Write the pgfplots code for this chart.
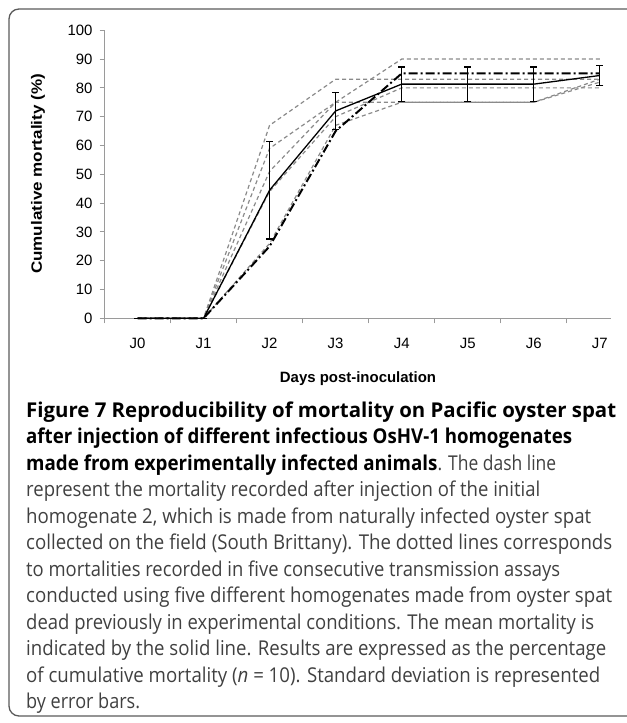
\documentclass[border=0pt]{standalone}
\usepackage{fontspec}
\setmainfont{Liberation Sans}
\newfontfamily\capfont[FakeStretch=0.93]{Open Sans}
\newfontfamily\capbold{Open Sans}
\usepackage{graphicx}
\usepackage{pgfplots}
\pgfplotsset{compat=1.18}
\definecolor{dgray}{HTML}{8A8A8A}
\definecolor{axgray}{HTML}{9A9A9A}
\definecolor{txtgray}{HTML}{404040}
\definecolor{boxgray}{HTML}{5A5A5A}
\newcommand\B[1]{{\capbold\bfseries\color{black}#1}}
\newcommand\capline[3]{\node at (26,#1) {\resizebox{#2bp}{\height}{#3}};}
\begin{document}
\begin{tikzpicture}[x=1bp,y=1bp]
\useasboundingbox (0,0) rectangle (627,723);
\draw[line width=1.3bp, boxgray, rounded corners=10bp] (9,7) rectangle (680,714);
\begin{axis}[
  at={(104.5bp,404.7bp)}, anchor=south west,
  scale only axis, width=506.5bp, height=288bp,
  xmin=-0.5, xmax=7.17, ymin=0, ymax=100,
  axis x line*=bottom, axis y line*=left,
  axis line style={draw=axgray, line width=0.8bp},
  ytick={0,10,...,100},
  xtick={-0.5,0.5,1.5,2.5,3.5,4.5,5.5,6.5}, xticklabels={},
  extra x ticks={0,1,2,3,4,5,6,7},
  extra x tick labels={J0,J1,J2,J3,J4,J5,J6,J7},
  extra x tick style={major tick length=0pt, xticklabel style={anchor=north, yshift=-16.7bp}},
  tick align=outside,
  major tick length=5bp,
  tick style={draw=axgray, line width=0.8bp},
  tick label style={font=\fontsize{15}{17}\selectfont, text=black},
  /pgf/number format/assume math mode=true,
  yticklabel style={anchor=east, xshift=-3.5bp},
  clip=false,
]
% five transmission assays (grey dashed)
\addplot[dgray, line width=1.2bp, dash pattern=on 4bp off 3bp] coordinates {(0,0) (1,0) (2,67) (3,83) (4,83) (5,83) (6,83) (7,83)};
\addplot[dgray, line width=1.2bp, dash pattern=on 4bp off 3bp] coordinates {(0,0) (1,0) (2,59) (3,75) (4,90) (5,90) (6,90) (7,90)};
\addplot[dgray, line width=1.2bp, dash pattern=on 4bp off 3bp] coordinates {(0,0) (1,0) (2,51) (3,75) (4,75) (5,75) (6,75) (7,83)};
\addplot[dgray, line width=1.2bp, dash pattern=on 4bp off 3bp] coordinates {(0,0) (1,0) (2,44) (3,70) (4,80) (5,80) (6,80) (7,80)};
\addplot[dgray, line width=1.2bp, dash pattern=on 4bp off 3bp] coordinates {(0,0) (1,0) (2,26) (3,67) (4,75) (5,75) (6,75) (7,82)};
% initial homogenate 2 (dash-dot)
\addplot[black, line width=2bp, dash pattern=on 9bp off 3bp on 2bp off 3bp] coordinates {(0,0) (1,0) (2,25) (3,65) (4,85) (5,85) (6,85) (7,85)};
% mean with SD
\addplot[black, line width=1.3bp, error bars/.cd, y dir=both, y explicit,
  error bar style={line width=1.3bp, solid},
  error mark options={rotate=90, mark size=3.5bp, line width=1.3bp}]
  coordinates {(0,0) +- (0,0) (1,0) +- (0,0) (2,44.5) +- (0,17) (3,72) +- (0,6.5) (4,81.3) +- (0,6) (5,81.3) +- (0,6) (6,81.3) +- (0,6) (7,84.3) +- (0,3.4)};
\end{axis}
\node[font=\bfseries\fontsize{15}{17}\selectfont, anchor=base] at (358,340) {Days post-inoculation};
\node[rotate=90, font=\bfseries\fontsize{15}{17}\selectfont] at (38,549) {\scalebox{1.14}[1]{Cumulative mortality (\%)}};
\begin{scope}[every node/.style={anchor=base west, inner sep=0pt, text=txtgray, font=\capfont\fontsize{20.5}{24}\selectfont}]
\capline{305.7}{590}{\B{Figure 7 Reproducibility of mortality on Pacific oyster spat}}
\capline{279.2}{546}{\B{after injection of different infectious OsHV-1 homogenates}}
\capline{252.7}{530}{\B{made from experimentally infected animals}. The dash line}
\capline{226.2}{514}{represent the mortality recorded after injection of the initial}
\capline{199.7}{565}{homogenate 2, which is made from naturally infected oyster spat}
\capline{173.2}{586}{collected on the field (South Brittany). The dotted lines corresponds}
\capline{146.7}{534}{to mortalities recorded in five consecutive transmission assays}
\capline{120.2}{586}{conducted using five different homogenates made from oyster spat}
\capline{93.7}{568}{dead previously in experimental conditions. The mean mortality is}
\capline{67.2}{580}{indicated by the solid line. Results are expressed as the percentage}
\capline{40.7}{574}{of cumulative mortality (\textit{n} = 10). Standard deviation is represented}
\capline{14.2}{114}{by error bars.}
\end{scope}
\end{tikzpicture}
\end{document}
